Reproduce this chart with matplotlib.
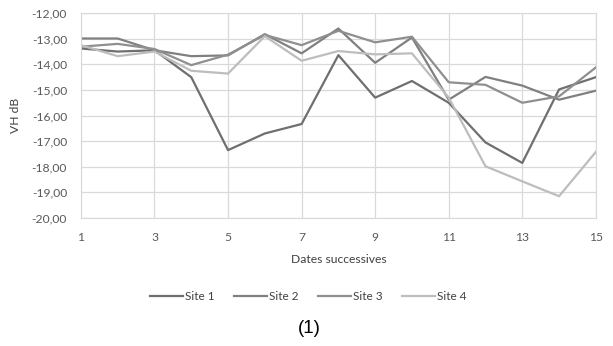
import numpy as np
import matplotlib
matplotlib.use("Agg")
import matplotlib.pyplot as plt

# Valeurs (VH en dB)
dates = list(range(1, 16))
site1 = [-13.38, -13.50, -13.45, -14.50, -17.35, -16.70, -16.33, -13.64,
         -15.30, -14.65, -15.50, -17.05, -17.85, -14.98, -14.50]
site2 = [-12.99, -12.99, -13.45, -13.68, -13.65, -12.82, -13.57, -12.60,
         -13.94, -12.95, -15.38, -14.49, -14.83, -15.38, -15.03]
site3 = [-13.31, -13.20, -13.40, -14.03, -13.62, -12.85, -13.25, -12.69,
         -13.14, -12.92, -14.70, -14.80, -15.50, -15.25, -14.12]
site4 = [-13.25, -13.68, -13.50, -14.25, -14.36, -12.90, -13.86, -13.48,
         -13.61, -13.57, -15.30, -17.98, -18.57, -19.15, -17.42]

series = {"Site 1": site1, "Site 2": site2, "Site 3": site3, "Site 4": site4}
colors = ["#6f6f6f", "#808080", "#8f8f8f", "#bdbdbd"]
xticks = list(range(1, 16, 2))
yticks = list(range(-20, -11))

plt.rcParams["font.family"] = ["Lato", "DejaVu Sans"]

fig = plt.figure(figsize=(6.13, 3.46), dpi=100)
ax = fig.add_axes([0.132, 0.370, 0.840, 0.592])

for (name, vals), c in zip(series.items(), colors):
    ax.plot(dates, vals, color=c, lw=1.6, label=name)

ax.set_xlim(1, 15)
ax.set_ylim(-20, -12)
ax.set_xticks(xticks)
ax.set_yticks(yticks)
ax.set_yticklabels([f"{v:.2f}".replace(".", ",") for v in yticks])
ax.grid(True, color="#d9d9d9", lw=0.9)
ax.set_axisbelow(True)
for s in ax.spines.values():
    s.set_color("#d9d9d9")
ax.tick_params(length=0, labelsize=8.7, colors="#595959", pad=10)
ax.set_xlabel("Dates successives", fontsize=8.7, color="#404040", labelpad=8)
ax.set_ylabel("VH dB", fontsize=8.7, color="#404040", labelpad=8)

fig.legend(loc="center", bbox_to_anchor=(0.503, 0.142), ncol=4, frameon=False,
           fontsize=8.5, handlelength=2.8, handletextpad=0.2, columnspacing=1.6,
           labelcolor="#404040")

fig.text(0.505, 0.052, "(1)", ha="center", va="center", fontsize=13.5,
         family="Liberation Sans")

fig.savefig("out.png", dpi=100)
